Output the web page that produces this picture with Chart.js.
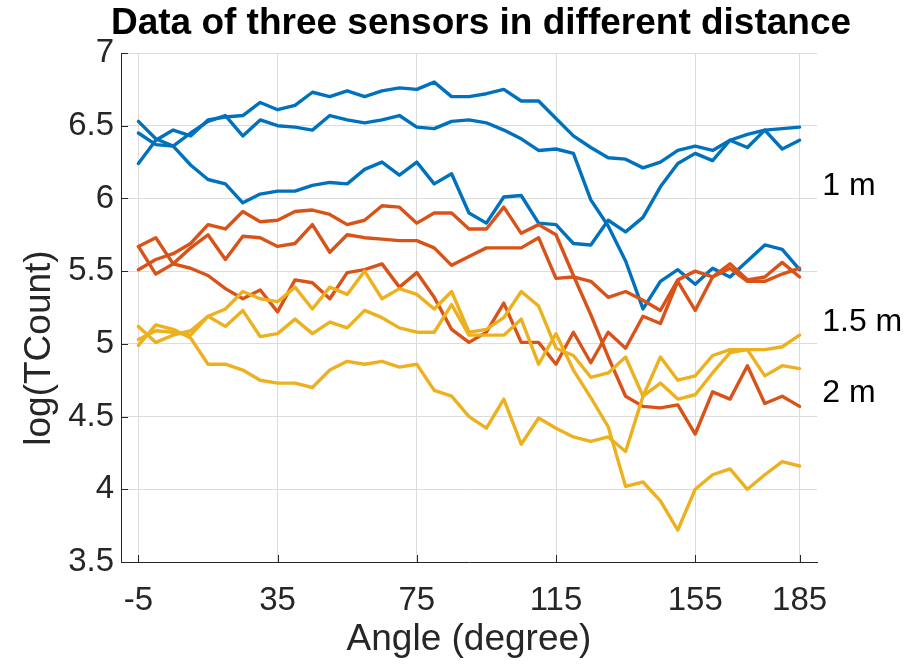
<!DOCTYPE html>
<html>
<head>
<meta charset="utf-8">
<title>Data of three sensors in different distance</title>
<script src="https://cdn.jsdelivr.net/npm/chart.js@4/dist/chart.umd.min.js"></script>
<style>
  html, body { margin: 0; padding: 0; background: #ffffff; }
  #wrap { width: 917px; height: 665px; }
</style>
</head>
<body>
<div id="wrap"><canvas id="chart" width="917" height="665"></canvas></div>
<script>
// Sensor angle in degrees (one reading every 5 degrees)
const angles = [-5, 0, 5, 10, 15, 20, 25, 30, 35, 40, 45, 50, 55, 60, 65, 70, 75, 80, 85, 90,
                95, 100, 105, 110, 115, 120, 125, 130, 135, 140, 145, 150, 155, 160, 165, 170, 175, 180, 185];

// log(TCount) at 1 m
const sensorA_1m = [6.24, 6.40, 6.47, 6.43, 6.54, 6.56, 6.57, 6.66, 6.61, 6.64, 6.73, 6.70, 6.74, 6.70, 6.74, 6.76, 6.75, 6.80, 6.70, 6.70,
                    6.72, 6.75, 6.67, 6.67, 6.55, 6.43, 6.35, 6.28, 6.27, 6.21, 6.25, 6.33, 6.36, 6.33, 6.40, 6.44, 6.47, 6.48, 6.49];
const sensorB_1m = [6.45, 6.37, 6.36, 6.45, 6.53, 6.57, 6.43, 6.54, 6.50, 6.49, 6.47, 6.57, 6.54, 6.52, 6.54, 6.57, 6.49, 6.48, 6.53, 6.54,
                    6.52, 6.47, 6.41, 6.33, 6.34, 6.31, 5.99, 5.81, 5.57, 5.24, 5.43, 5.51, 5.41, 5.52, 5.46, 5.57, 5.68, 5.65, 5.51];
const sensorC_1m = [6.53, 6.41, 6.36, 6.23, 6.13, 6.10, 5.97, 6.03, 6.05, 6.05, 6.09, 6.11, 6.10, 6.20, 6.25, 6.16, 6.25, 6.10, 6.17, 5.90,
                    5.83, 6.01, 6.02, 5.83, 5.82, 5.69, 5.68, 5.85, 5.77, 5.87, 6.08, 6.24, 6.31, 6.26, 6.40, 6.35, 6.47, 6.34, 6.40];

// log(TCount) at 1.5 m
const sensorA_15m = [5.51, 5.58, 5.62, 5.69, 5.82, 5.79, 5.91, 5.84, 5.85, 5.91, 5.92, 5.89, 5.82, 5.85, 5.95, 5.94, 5.83, 5.90, 5.90, 5.79,
                     5.79, 5.94, 5.76, 5.82, 5.75, 5.47, 5.20, 4.91, 4.64, 4.57, 4.56, 4.58, 4.38, 4.67, 4.62, 4.85, 4.59, 4.64, 4.57];
const sensorB_15m = [5.67, 5.48, 5.55, 5.66, 5.75, 5.58, 5.74, 5.73, 5.67, 5.69, 5.82, 5.63, 5.75, 5.73, 5.72, 5.71, 5.71, 5.66, 5.54, 5.60,
                     5.66, 5.66, 5.66, 5.73, 5.45, 5.46, 5.43, 5.32, 5.36, 5.30, 5.23, 5.44, 5.50, 5.46, 5.55, 5.44, 5.46, 5.56, 5.46];
const sensorC_15m = [5.67, 5.73, 5.55, 5.52, 5.47, 5.38, 5.31, 5.37, 5.22, 5.44, 5.42, 5.31, 5.49, 5.51, 5.55, 5.39, 5.49, 5.32, 5.10, 5.01,
                     5.08, 5.28, 5.01, 5.01, 4.86, 5.08, 4.87, 5.08, 4.97, 5.19, 5.14, 5.43, 5.23, 5.46, 5.52, 5.43, 5.43, 5.48, 5.52];

// log(TCount) at 2 m
const sensorA_2m = [5.12, 5.01, 5.06, 5.09, 5.19, 5.24, 5.36, 5.31, 5.29, 5.39, 5.24, 5.39, 5.34, 5.50, 5.31, 5.38, 5.34, 5.24, 5.36, 5.08,
                    5.10, 5.18, 5.36, 5.26, 4.97, 4.92, 4.77, 4.80, 4.91, 4.64, 4.73, 4.62, 4.65, 4.80, 4.94, 4.96, 4.78, 4.85, 4.83];
const sensorB_2m = [5.03, 5.09, 5.08, 5.06, 5.19, 5.12, 5.23, 5.05, 5.07, 5.17, 5.07, 5.15, 5.11, 5.23, 5.18, 5.11, 5.08, 5.08, 5.27, 5.06,
                    5.06, 5.06, 5.17, 4.86, 5.07, 4.82, 4.63, 4.43, 4.02, 4.05, 3.92, 3.72, 4.00, 4.10, 4.14, 4.00, 4.10, 4.19, 4.16];
const sensorC_2m = [4.99, 5.13, 5.10, 5.04, 4.86, 4.86, 4.82, 4.75, 4.73, 4.73, 4.70, 4.82, 4.88, 4.86, 4.88, 4.84, 4.86, 4.68, 4.64, 4.50,
                    4.42, 4.62, 4.31, 4.49, 4.42, 4.36, 4.33, 4.36, 4.26, 4.64, 4.91, 4.75, 4.78, 4.92, 4.96, 4.96, 4.96, 4.98, 5.06];

// Axis ticks and text
const xTicks = [-5, 35, 75, 115, 155, 185];
const yTicks = [3.5, 4, 4.5, 5, 5.5, 6, 6.5, 7];
const distanceLabels = ['1 m', '1.5 m', '2 m'];
const titleText = 'Data of three sensors in different distance';
const xLabelText = 'Angle (degree)';
const yLabelText = 'log(TCount)';

const FONT = "'Liberation Sans', Arial, Helvetica, sans-serif";
const BLUE = '#0072BD', ORANGE = '#D95319', YELLOW = '#EDB120';
const AXIS = '#262626', GRID = '#dcdcdc';

function series(values, color, order) {
  return {
    data: values.map((v, i) => ({ x: angles[i], y: v })),
    borderColor: color,
    backgroundColor: color,
    borderWidth: 3.4,
    borderJoinStyle: 'round',
    borderCapStyle: 'round',
    pointRadius: 0,
    tension: 0,
    fill: false,
    order: order
  };
}

// Inward tick marks plus title, axis labels and the distance notes
const decor = {
  id: 'decor',
  beforeDatasetsDraw(chart) {
    const { ctx, chartArea, scales } = chart;
    ctx.save();
    ctx.strokeStyle = AXIS;
    ctx.lineWidth = 1;
    ctx.beginPath();
    xTicks.forEach(v => {
      const px = Math.round(scales.x.getPixelForValue(v)) + 0.5;
      ctx.moveTo(px, chartArea.bottom);
      ctx.lineTo(px, chartArea.bottom - 7);
    });
    yTicks.forEach(v => {
      const py = Math.round(scales.y.getPixelForValue(v)) + 0.5;
      ctx.moveTo(chartArea.left, py);
      ctx.lineTo(chartArea.left + 7, py);
    });
    ctx.stroke();
    ctx.restore();
  },
  afterDraw(chart, args, opts) {
    const { ctx, chartArea, scales } = chart;
    ctx.save();
    ctx.fillStyle = '#000000';
    ctx.textAlign = 'center';
    ctx.textBaseline = 'middle';
    ctx.font = 'bold 37px ' + FONT;
    ctx.fillText(titleText, opts.titleX, opts.titleY);

    ctx.fillStyle = AXIS;
    ctx.font = '37px ' + FONT;
    ctx.fillText(xLabelText, (chartArea.left + chartArea.right) / 2, opts.xLabelY);

    ctx.save();
    ctx.translate(opts.yLabelX, opts.yLabelY);
    ctx.rotate(-Math.PI / 2);
    ctx.fillText(yLabelText, 0, 0);
    ctx.restore();

    ctx.fillStyle = '#000000';
    ctx.textAlign = 'left';
    ctx.font = '32px ' + FONT;
    distanceLabels.forEach((t, i) => {
      ctx.fillText(t, scales.x.getPixelForValue(opts.noteX), scales.y.getPixelForValue(opts.noteY[i]));
    });
    ctx.restore();
  }
};

new Chart(document.getElementById('chart'), {
  type: 'line',
  data: {
    datasets: [
      series(sensorA_1m, BLUE, 3), series(sensorB_1m, BLUE, 3), series(sensorC_1m, BLUE, 3),
      series(sensorA_15m, ORANGE, 2), series(sensorB_15m, ORANGE, 2), series(sensorC_15m, ORANGE, 2),
      series(sensorA_2m, YELLOW, 1), series(sensorB_2m, YELLOW, 1), series(sensorC_2m, YELLOW, 1)
    ]
  },
  options: {
    responsive: false,
    devicePixelRatio: 1,
    animation: false,
    layout: { padding: { top: 53, right: 100, bottom: 0, left: 0 } },
    plugins: {
      legend: { display: false },
      tooltip: { enabled: false },
      title: { display: false },
      decor: { titleX: 481, titleY: 24, xLabelY: 640, yLabelX: 40, yLabelY: 348,
               noteX: 191.5, noteY: [6.085, 5.15, 4.66] }
    },
    scales: {
      x: {
        type: 'linear',
        min: -10,
        max: 190,
        afterBuildTicks: s => { s.ticks = xTicks.map(v => ({ value: v })); },
        afterFit: s => { s.height = 103; },
        ticks: {
          autoSkip: false, maxRotation: 0, minRotation: 0,
          color: AXIS, padding: 19,
          font: { family: FONT, size: 33 },
          callback: v => String(v)
        },
        grid: { color: GRID, lineWidth: 1, drawTicks: false },
        border: { display: true, color: AXIS, width: 1 }
      },
      y: {
        type: 'linear',
        min: 3.5,
        max: 7,
        afterBuildTicks: s => { s.ticks = yTicks.map(v => ({ value: v })); },
        afterFit: s => { s.width = 121; },
        ticks: {
          color: AXIS, padding: 7,
          font: { family: FONT, size: 33 },
          callback: v => String(v)
        },
        grid: { color: GRID, lineWidth: 1, drawTicks: false },
        border: { display: true, color: AXIS, width: 1 }
      }
    }
  },
  plugins: [decor]
});
</script>
</body>
</html>
